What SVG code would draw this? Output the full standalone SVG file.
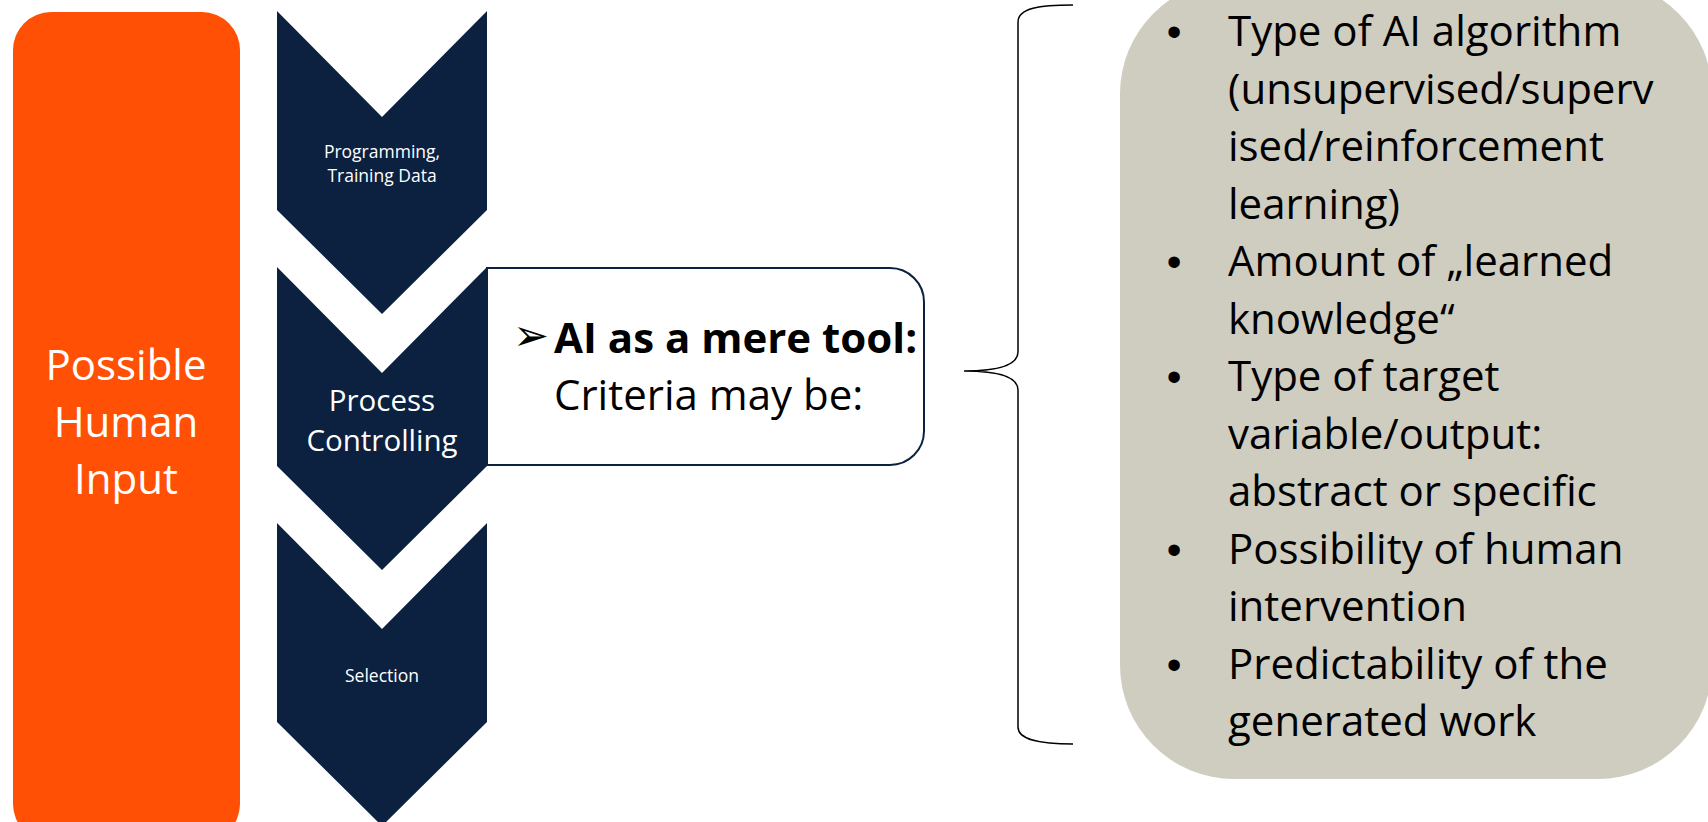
<svg xmlns="http://www.w3.org/2000/svg" width="1708" height="822" viewBox="0 0 1708 822">
<style>
  .w { fill: #ffffff; font-family: "Open Sans", "Noto Sans", sans-serif; text-anchor: middle; }
  .big { font-size: 42px; }
  .chev { fill: #0C2040; }
  .t { fill: #000000; font-family: "Open Sans", "Noto Sans", sans-serif; font-size: 42px; }
  .bul { fill: #000000; font-family: "Liberation Sans", Arial, sans-serif; font-size: 42px; text-anchor: middle; }
</style>
<rect width="1708" height="822" fill="#ffffff"/>

<g id="human-input">
  <rect x="13" y="12" width="227" height="830" rx="38" ry="38" fill="#FF5005"/>
  <text class="w big" x="126" y="380">Possible</text>
  <text class="w big" x="126" y="437">Human</text>
  <text class="w big" x="126" y="494">Input</text>
</g>

<g id="callout">
  <path d="M487,268 H890 A34,34 0 0 1 924,302 V431 A34,34 0 0 1 890,465 H487 Z" fill="#ffffff" stroke="#0C2040" stroke-width="2"/>
  <text x="513" y="350" font-family="DejaVu Sans, sans-serif" font-size="43" fill="#000">➢</text>
  <text class="t" x="554" y="353" font-weight="bold" font-size="41">AI as a mere tool:</text>
  <text class="t" x="554" y="410">Criteria may be:</text>
</g>

<g id="chevron-programming">
  <path class="chev" d="M277,11 L382,117 L487,11 L487,210 L382,314 L277,210 Z"/>
  <text class="w" x="382" y="158" font-size="17.5">Programming,</text>
  <text class="w" x="382" y="182" font-size="17.5">Training Data</text>
</g>

<g id="chevron-process">
  <path class="chev" d="M277,267 L382,373 L487,267 L487,466 L382,570 L277,466 Z"/>
  <text class="w" x="382" y="411" font-size="29.5">Process</text>
  <text class="w" x="382" y="451" font-size="29.5">Controlling</text>
</g>

<g id="chevron-selection">
  <path class="chev" d="M277,523 L382,629 L487,523 L487,722 L382,826 L277,722 Z"/>
  <text class="w" x="382" y="682" font-size="17.5">Selection</text>
</g>

<g id="connectors">
  <path d="M1073,5 C1040,5 1018,8 1018,22 L1018,352 C1018,365 1000,371 964,371 C1000,371 1018,377 1018,390 L1018,727 C1018,740 1040,744 1073,744" fill="none" stroke="#000" stroke-width="1.5"/>
</g>

<g id="criteria">
  <rect x="1120" y="-20" width="592" height="799" rx="114" ry="114" fill="#CFCCC0"/>
  <text class="bul" x="1174" y="46">•</text>
  <text class="bul" x="1174" y="276">•</text>
  <text class="bul" x="1174" y="391">•</text>
  <text class="bul" x="1174" y="563.5">•</text>
  <text class="bul" x="1174" y="678.5">•</text>
  <text class="t" x="1228" y="46">Type of AI algorithm</text>
  <text class="t" x="1228" y="103.5">(unsupervised/superv</text>
  <text class="t" x="1228" y="161">ised/reinforcement</text>
  <text class="t" x="1228" y="218.5">learning)</text>
  <text class="t" x="1228" y="276">Amount of „learned</text>
  <text class="t" x="1228" y="333.5">knowledge“</text>
  <text class="t" x="1228" y="391">Type of target</text>
  <text class="t" x="1228" y="448.5">variable/output:</text>
  <text class="t" x="1228" y="506">abstract or specific</text>
  <text class="t" x="1228" y="563.5">Possibility of human</text>
  <text class="t" x="1228" y="621">intervention</text>
  <text class="t" x="1228" y="678.5">Predictability of the</text>
  <text class="t" x="1228" y="736">generated work</text>
</g>
</svg>
